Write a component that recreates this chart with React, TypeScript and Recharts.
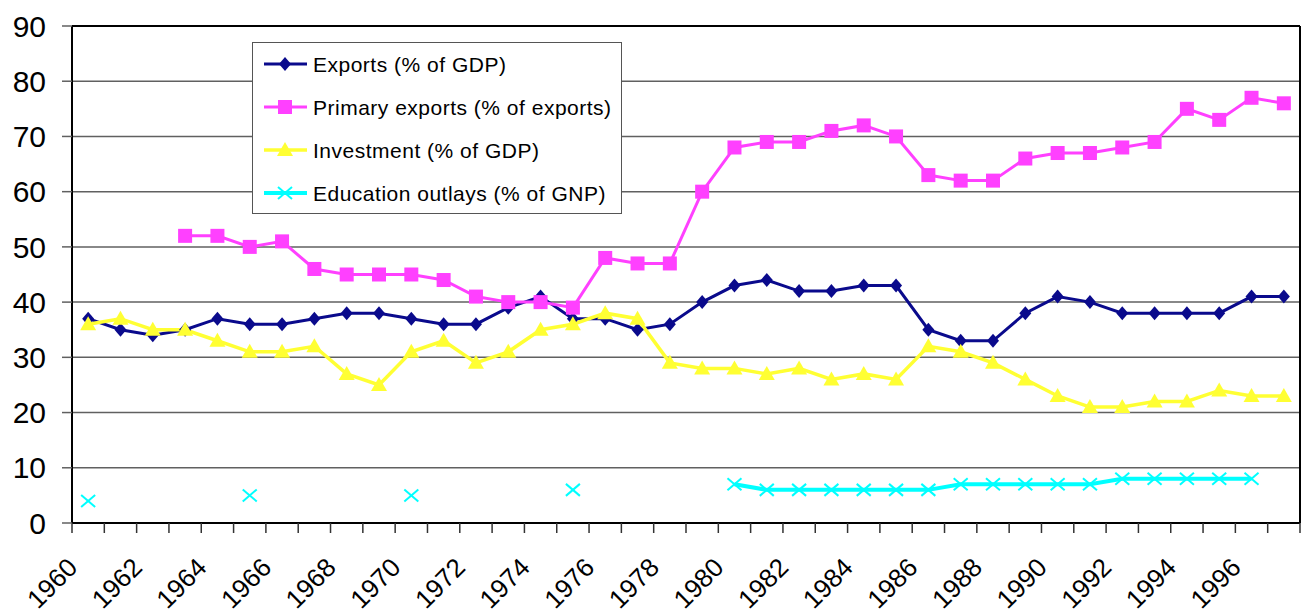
import { LineChart, Line, XAxis, YAxis, CartesianGrid, ReferenceLine, Legend } from "recharts";

const years = [
  1960, 1961, 1962, 1963, 1964, 1965, 1966, 1967, 1968, 1969,
  1970, 1971, 1972, 1973, 1974, 1975, 1976, 1977, 1978, 1979,
  1980, 1981, 1982, 1983, 1984, 1985, 1986, 1987, 1988, 1989,
  1990, 1991, 1992, 1993, 1994, 1995, 1996, 1997,
];

const exportsGdp = [
  37, 35, 34, 35, 37, 36, 36, 37, 38, 38,
  37, 36, 36, 39, 41, 37, 37, 35, 36, 40,
  43, 44, 42, 42, 43, 43, 35, 33, 33, 38,
  41, 40, 38, 38, 38, 38, 41, 41,
];

const primaryExports = [
  null, null, null, 52, 52, 50, 51, 46, 45, 45,
  45, 44, 41, 40, 40, 39, 48, 47, 47, 60,
  68, 69, 69, 71, 72, 70, 63, 62, 62, 66,
  67, 67, 68, 69, 75, 73, 77, 76,
];

const investmentGdp = [
  36, 37, 35, 35, 33, 31, 31, 32, 27, 25,
  31, 33, 29, 31, 35, 36, 38, 37, 29, 28,
  28, 27, 28, 26, 27, 26, 32, 31, 29, 26,
  23, 21, 21, 22, 22, 24, 23, 23,
];

const educationGnp = [
  4, null, null, null, null, 5, null, null, null, null,
  5, null, null, null, null, 6, null, null, null, null,
  7, 6, 6, 6, 6, 6, 6, 7, 7, 7,
  7, 7, 8, 8, 8, 8, 8, null,
];

const yTicks = [0, 10, 20, 30, 40, 50, 60, 70, 80, 90];
const yearLabels = [1960, 1962, 1964, 1966, 1968, 1970, 1972, 1974, 1976, 1978, 1980, 1982, 1984, 1986, 1988, 1990, 1992, 1994, 1996];

const data = years.map((year, i) => ({
  year,
  exports: exportsGdp[i],
  primary: primaryExports[i],
  investment: investmentGdp[i],
  education: educationGnp[i],
}));

// tick marks sit between the years
const boundaries = [...years.map((y) => y - 0.5), years[years.length - 1] + 0.5];

const series = [
  { key: "exports", name: "Exports (% of GDP)", color: "#0a0a8c", marker: "diamond", width: 3 },
  { key: "primary", name: "Primary exports (% of exports)", color: "#ff40ff", marker: "square", width: 3 },
  { key: "investment", name: "Investment (% of GDP)", color: "#ffff33", marker: "triangle", width: 3.5 },
  { key: "education", name: "Education outlays (% of GNP)", color: "#00ffff", marker: "cross", width: 4 },
];

function Marker({ type, cx, cy, color }: any) {
  if (type === "diamond") {
    return <polygon points={`${cx},${cy - 7} ${cx + 6},${cy} ${cx},${cy + 7} ${cx - 6},${cy}`} fill={color} />;
  }
  if (type === "square") {
    return <rect x={cx - 7} y={cy - 7} width={14} height={14} fill={color} />;
  }
  if (type === "triangle") {
    return <polygon points={`${cx},${cy - 8} ${cx + 8},${cy + 6} ${cx - 8},${cy + 6}`} fill={color} />;
  }
  return (
    <g stroke={color} strokeWidth={2}>
      <line x1={cx - 7} y1={cy - 6} x2={cx + 7} y2={cy + 6} />
      <line x1={cx - 7} y1={cy + 6} x2={cx + 7} y2={cy - 6} />
    </g>
  );
}

function XTick({ x, y, payload }: any) {
  const year = payload.value + 0.5;
  if (!yearLabels.includes(year)) return <g />;
  const ax = x + 7;
  const ay = y + 34;
  return (
    <text x={ax} y={ay} textAnchor="end" fontSize={26} fill="#000" transform={`rotate(-45 ${ax} ${ay})`}>
      {year}
    </text>
  );
}

function LegendBox() {
  return (
    <div
      style={{
        width: 370,
        height: 172,
        boxSizing: "border-box",
        border: "1px solid #555",
        background: "#fff",
        fontSize: 21,
        letterSpacing: "0.5px",
        color: "#000",
      }}
    >
      {series.map((s) => (
        <div key={s.key} style={{ height: 43, display: "flex", alignItems: "center" }}>
          <svg width={60} height={43} style={{ flexShrink: 0 }}>
            <line x1={11} y1={21} x2={54} y2={21} stroke={s.color} strokeWidth={s.width} />
            <Marker type={s.marker} cx={32} cy={21} color={s.color} />
          </svg>
          <span style={{ lineHeight: "43px", whiteSpace: "nowrap" }}>{s.name}</span>
        </div>
      ))}
    </div>
  );
}

export default function App() {
  return (
    <div style={{ position: "absolute", left: 0, top: 0, fontFamily: "'Liberation Sans', Arial, sans-serif", background: "#fff" }}>
      <LineChart width={1307} height={615} data={data} margin={{ top: 26, right: 7, bottom: 0, left: 0 }}>
        <CartesianGrid vertical={false} stroke="#606060" strokeWidth={1.5} />
        <XAxis
          dataKey="year"
          type="number"
          domain={[1959.5, 1997.5]}
          ticks={boundaries}
          interval={0}
          height={92}
          tickSize={10}
          tickLine={{ stroke: "#333", strokeWidth: 1.5 }}
          axisLine={{ stroke: "#000", strokeWidth: 2 }}
          tick={<XTick />}
        />
        <YAxis
          domain={[0, 90]}
          ticks={yTicks}
          interval={0}
          width={72}
          tickSize={10}
          tickMargin={16}
          tickLine={{ stroke: "#606060", strokeWidth: 1.5 }}
          axisLine={{ stroke: "#000", strokeWidth: 2 }}
          tick={{ fontSize: 30, fill: "#000" }}
        />
        <ReferenceLine y={90} stroke="#000" strokeWidth={2} />
        <ReferenceLine x={1997.5} stroke="#000" strokeWidth={2} />
        <Legend
          layout="vertical"
          align="center"
          verticalAlign="middle"
          content={() => <LegendBox />}
          wrapperStyle={{ position: "absolute", left: 252, top: 42, width: 370, height: 172 }}
        />
        {series.map((s) => (
          <Line
            key={s.key}
            dataKey={s.key}
            name={s.name}
            stroke={s.color}
            strokeWidth={s.width}
            isAnimationActive={false}
            connectNulls={false}
            dot={(p: any) =>
              p.cy == null || p.value == null ? (
                <g key={p.index} />
              ) : (
                <Marker key={p.index} type={s.marker} cx={p.cx} cy={p.cy} color={s.color} />
              )
            }
            activeDot={false}
          />
        ))}
      </LineChart>
    </div>
  );
}
